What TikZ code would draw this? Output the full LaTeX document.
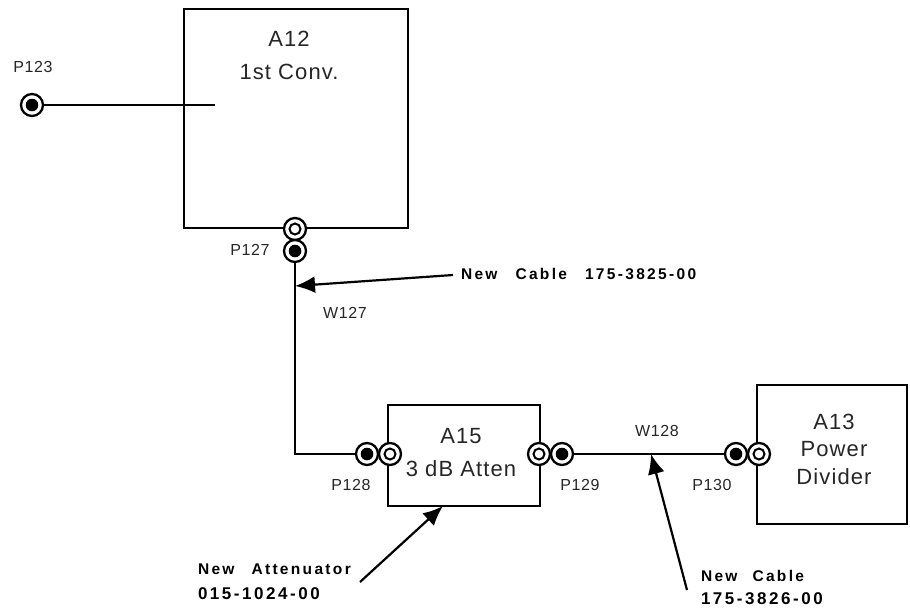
\documentclass[tikz,border=0pt]{standalone}
\usepackage{fontspec}
\setmainfont{Liberation Sans}
\newfontfamily\notefont[LetterSpace=15]{Liberation Sans Bold}
\newfontfamily\titlefont[LetterSpace=5]{Liberation Sans}
\newfontfamily\labfont[LetterSpace=4]{Liberation Sans}
\newcommand{\notesmall}{\fontsize{15.5}{23}\selectfont}
\usetikzlibrary{arrows.meta}
\tikzset{
  every node/.style={inner sep=0pt,outer sep=0pt},
  box/.style={draw=black,line width=1.9pt,fill=white},
  wire/.style={draw=black,line width=1.7pt},
  ringf/.style={circle,draw=black,line width=2.3pt,fill=white,minimum size=22pt,
     path picture={\draw[black,line width=2pt] (path picture bounding box.center) circle (5.5pt);}},
  ringm/.style={circle,draw=black,line width=2.3pt,fill=white,minimum size=22pt,
     path picture={\fill[black] (path picture bounding box.center) circle (6.3pt);}},
  callout/.style={draw=black,line width=2.2pt,-{Latex[length=20pt,width=17pt]}},
  lab/.style={font=\labfont\fontsize{16}{18}\selectfont,text=black!85},
  title/.style={font=\titlefont\fontsize{22}{33}\selectfont,align=center,text=black!85},
  note/.style={font=\notefont\fontsize{17}{23}\selectfont,align=left,anchor=west,text=black},
}
\begin{document}
\begin{tikzpicture}[x=1pt,y=-1pt]
\useasboundingbox (0,0) rectangle (910,611);
% boxes
\node[box,anchor=north west,minimum width=224pt,minimum height=219pt] (a12) at (184,9) {};
\node[box,anchor=north west,minimum width=152pt,minimum height=101pt] (a15) at (388,405) {};
\node[box,anchor=north west,minimum width=150pt,minimum height=139pt] (a13) at (757,385) {};
% titles
\node[title] (a12t) at (289,55.5) {A12\\1st Conv.};
\node[title] (a15t) at (461,452.5) {A15\\3 dB Atten};
\node[title,font=\titlefont\fontsize{22}{27.5}\selectfont] (a13t) at (834,449) {A13\\Power\\Divider};
% connectors
\node[ringm] (p123) at (32,105) {};
\coordinate (p123end) at (215,105);
\node[ringf] (j127) at (295,229) {};
\node[ringm] (p127) at (295,251) {};
\node[ringm] (p128) at (367,454) {};
\node[ringf] (j128) at (390,454) {};
\node[ringf] (j129) at (539,454) {};
\node[ringm] (p129) at (562,454) {};
\node[ringm] (p130) at (736,454) {};
\node[ringf] (j130) at (759,454) {};
% wires
\draw[wire] (p123) -- (p123end);
\draw[wire] (p127) -- (p127 |- p128) -- (p128);
\draw[wire] (p129) -- (p130);
% port labels
\node[lab] (lp123) at (33,67) {P123};
\node[lab] (lp127) at (250,250) {P127};
\node[lab] (lw127) at (345,313) {W127};
\node[lab] (lp128) at (351,485) {P128};
\node[lab] (lp129) at (580,485) {P129};
\node[lab] (lw128) at (657,431) {W128};
\node[lab] (lp130) at (712,485) {P130};
% notes
\node[note] (n1) at (461,274) {\notesmall New\hspace{18pt}Cable\hspace{18pt}175-3825-00};
\node[note] (n2) at (198,581.5) {\notesmall New\hspace{17pt}Attenuator\\[2pt]015-1024-00};
\node[note] (n3) at (701,587.5) {\notesmall New\hspace{15pt}Cable\\175-3826-00};
% call-outs
\coordinate (t1) at (295,286);
\coordinate (t2) at (443,506);
\coordinate (t3) at (651,454);
\coordinate (s1) at (453,275);
\coordinate (s2) at (360,582);
\coordinate (s3) at (687,590);
\draw[callout] (s1) -- (t1);
\draw[callout] (s2) -- (t2);
\draw[callout] (s3) -- (t3);
\end{tikzpicture}
\end{document}
